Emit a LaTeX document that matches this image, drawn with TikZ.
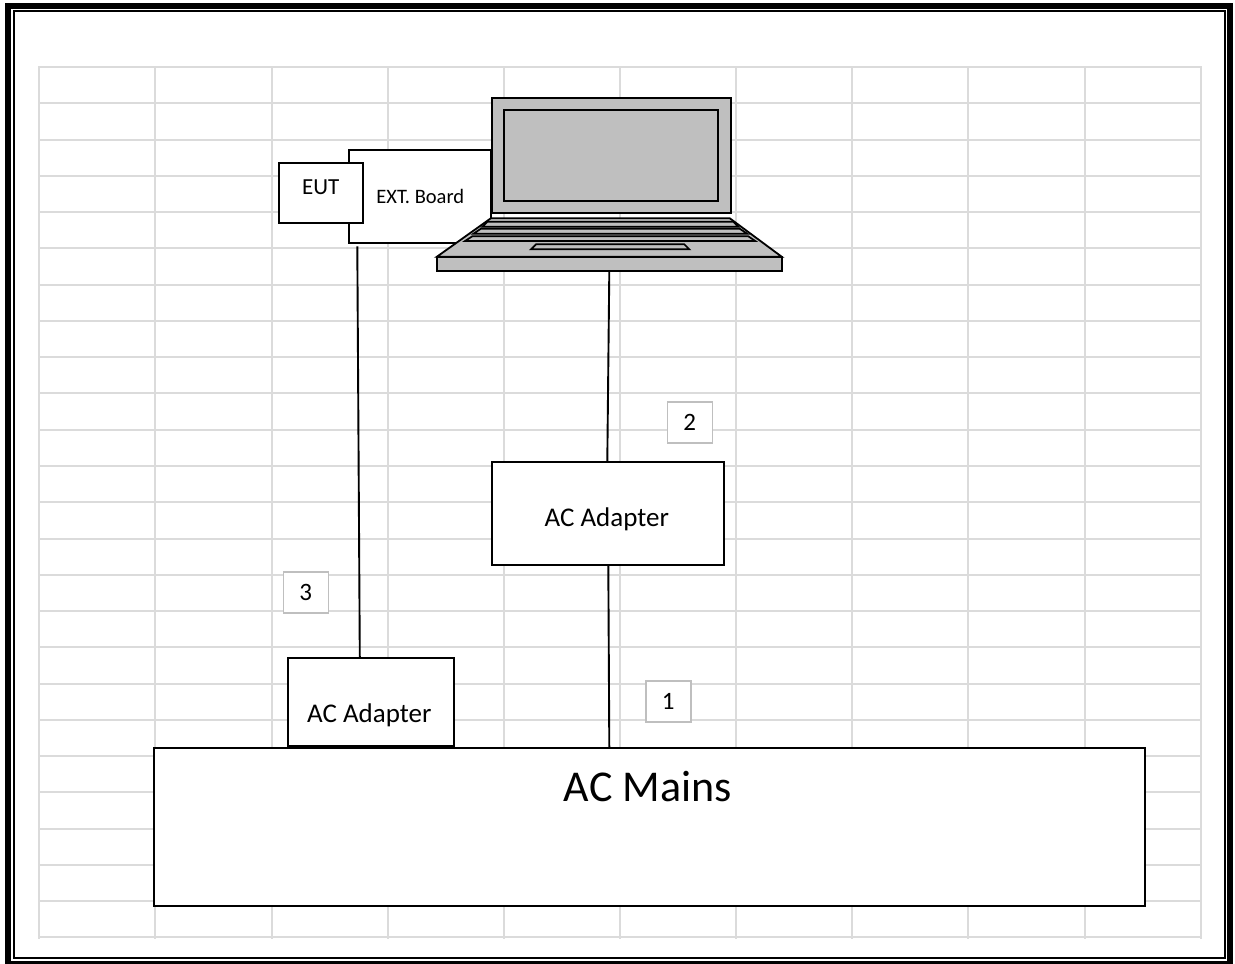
\documentclass[tikz,border=0pt]{standalone}
\usepackage{fontspec}
\setmainfont{Carlito}
\definecolor{gridc}{gray}{0.86}
\definecolor{lapc}{gray}{0.75}
\definecolor{tagc}{gray}{0.75}
\tikzset{
 boxn/.style={draw=black,fill=white,line width=1.9pt,inner sep=0pt,anchor=north west},
 tagn/.style={draw=tagc,fill=white,line width=1.6pt,minimum width=45pt,minimum height=41pt,inner sep=0pt,font=\fontsize{25}{25}\selectfont},
 wire/.style={draw=black,line width=1.9pt},
 lap/.style={draw=black,fill=lapc,line width=1.8pt,line join=miter},
 lapk/.style={draw=black,fill=lapc,line width=1.7pt},
 txt/.style={inner sep=0pt}
}
\begin{document}
\begin{tikzpicture}[x=1pt,y=-1pt]
\useasboundingbox (0.7,0.7) rectangle (1235.7,964.7);
% frame
\draw[line width=5.8pt] (9,7) -- (1231,7) -- (1231,965) -- (9,965) -- cycle;
\draw[line width=2pt] (15,12) -- (1226,12) -- (1226,958.5) -- (15,958.5) -- cycle;
% grid
\foreach \i in {0,...,10} {
  \pgfmathsetmacro{\gx}{39.9+\i*116.15}
  \draw[gridc,line width=2pt] (\gx,66.7) -- (\gx,939.2);
}
\foreach \j in {0,...,24} {
  \pgfmathsetmacro{\gy}{67.7+\j*36.27}
  \draw[gridc,line width=2pt] (38.9,\gy) -- (1202.4,\gy);
}
% ext board
\node[boxn,minimum width=142pt,minimum height=93pt] (ext) at (349,150) {};
\node[txt,font=\fontsize{20.5}{20.5}\selectfont] (extl) at (421,197) {EXT. Board};
\node[boxn,minimum width=84pt,minimum height=60pt] (eut) at (278.5,163) {};
\node[txt,font=\fontsize{23}{23}\selectfont] (eutl) at (321.5,188) {EUT};
% laptop
\node[lap,anchor=north west,minimum width=239pt,minimum height=115.5pt,inner sep=0pt] (screen) at (491.5,97.5) {};
\node[lap,anchor=north west,minimum width=214pt,minimum height=91pt,inner sep=0pt] (panel) at (504,109.5) {};
\draw[lap] (491.5,219) -- (730.5,219) -- (782.5,257.5) -- (437.5,257.5) -- cycle;
\draw[lap] (437.5,257.5) rectangle (782.5,271.5);
\draw[lapk] (488,222.5) -- (734,222.5) -- (739,227.5) -- (483,227.5) -- cycle;
\draw[lapk] (481.5,229.5) -- (740.5,229.5) -- (748,234.5) -- (474,234.5) -- cycle;
\draw[lapk] (473,237) -- (749,237) -- (756,241.7) -- (465.7,241.7) -- cycle;
\draw[lapk] (536.7,245) -- (685,245) -- (690,250) -- (531.7,250) -- cycle;
% adapters
\node[boxn,minimum width=232pt,minimum height=103pt] (ad2) at (492,462) {};
\node[txt,font=\fontsize{27}{27}\selectfont] (ad2l) at (607.5,520) {AC Adapter};
\node[boxn,minimum width=166.5pt,minimum height=88.5pt] (ad3) at (287.5,657.5) {};
\node[txt,font=\fontsize{27}{27}\selectfont] (ad3l) at (370,716) {AC Adapter};
\node[boxn,minimum width=991pt,minimum height=158pt] (mains) at (153.5,747.5) {};
\node[txt,font=\fontsize{44}{44}\selectfont] (mainsl) at (648.5,787) {AC Mains};
% tags
\node[tagn] (t2) at (690.5,423) {2};
\node[tagn] (t3) at (306.5,593) {3};
\node[tagn] (t1) at (669,702) {1};
% wires
\coordinate (w3t) at (358,247);
\coordinate (w2t) at (610,272);
\draw[wire] (w3t) -- (360.5,657.5);
\draw[wire] (w2t) -- (608,462);
\draw[wire] (609,565) -- (610,747.5);
\end{tikzpicture}
\end{document}
